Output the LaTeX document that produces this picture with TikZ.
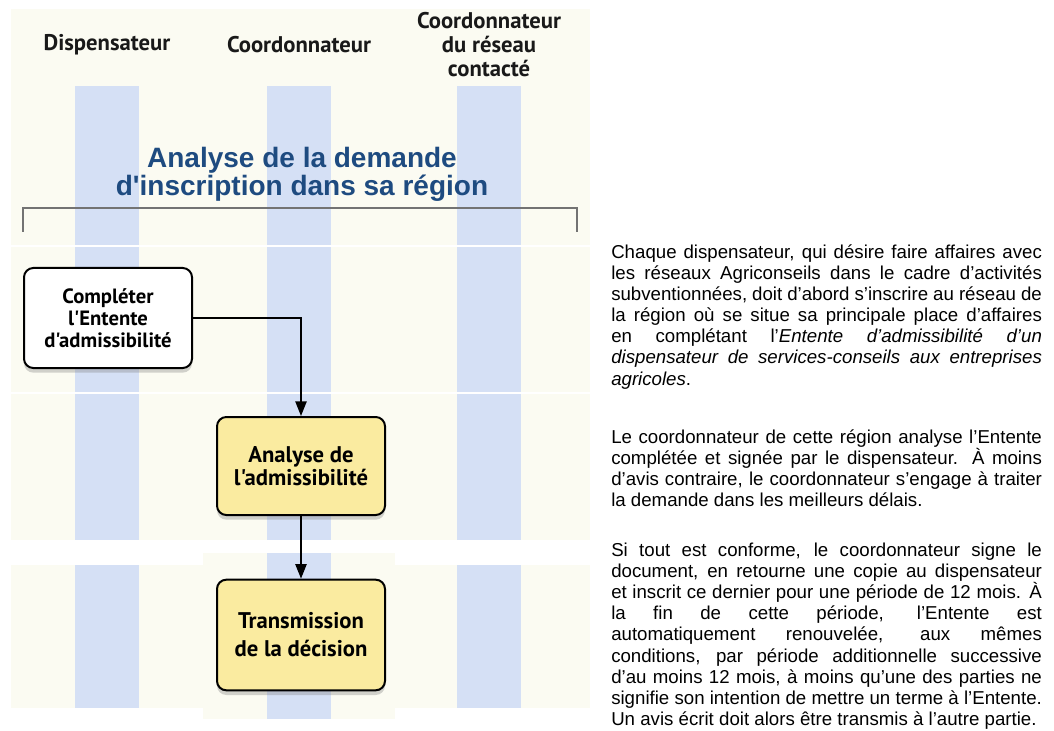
\documentclass[tikz,border=0pt]{standalone}
\usepackage{fontspec}
\setmainfont{Liberation Sans}
\newfontfamily\lanefont{PT Sans}
\newfontfamily\titlefont{Liberation Sans}
\usetikzlibrary{arrows.meta,shadows}
\definecolor{panelcream}{HTML}{FBFBF2}
\definecolor{laneblue}{HTML}{D5E0F5}
\definecolor{titleblue}{HTML}{1E4B80}
\definecolor{stepyellow}{HTML}{FAEBA0}
\begin{document}
\begin{tikzpicture}[x=0.75pt,y=-0.75pt]
\tikzstyle{panel} = [fill=panelcream];
\tikzstyle{lane} = [fill=laneblue];
\tikzstyle{header} = [align=center, text=black!90, font=\lanefont\bfseries\fontsize{17}{18}\selectfont];
\tikzstyle{titre} = [align=center, text=titleblue, font=\titlefont\bfseries\fontsize{21}{21}\selectfont];
\tikzstyle{stepbox} = [draw, line width=1.5pt, rounded corners=7pt, minimum width=126pt, align=center, drop shadow={shadow xshift=0pt, shadow yshift=-3.5pt, opacity=0.35}];
\tikzstyle{flow} = [line width=1.1pt, -{Triangle[length=11pt, width=8.5pt]}];
\tikzstyle{para} = [anchor=base west, text width=323pt, inner sep=0pt, align=justify, font=\fontsize{14}{15.9}\selectfont];
\useasboundingbox (0,0) rectangle (1054,731);
\fill[white] (0,0) rectangle (1054,731);
\fill[panel] (11,9) rectangle (590,245);
\fill[panel] (11,247) rectangle (590,392);
\fill[panel] (11,394) rectangle (590,540);
\fill[panel] (203,553) rectangle (395,719);
\fill[panel] (11,565) rectangle (590,708);
\foreach \ya/\yb in {86/245, 247/392, 394/540, 565/708}
  \foreach \xa in {75, 267, 457}
    \fill[lane] (\xa,\ya) rectangle (\xa+64,\yb);
\fill[lane] (267,553) rectangle (331,719);
\node[header] (disp) at (107,45) {Dispensateur};
\node[header] (coord) at (299,45) {Coordonnateur};
\node[header] (reseau) at (489,45) {Coordonnateur\\du réseau\\contacté};
\node[titre] (demande) at (302,174) {Analyse de la demande\\d'inscription dans sa région};
\draw[black!55, line width=1.2pt] (23,232) -- (23,208) -- (577,208) -- (577,232);
\node[stepbox, fill=white, minimum height=75pt, font=\lanefont\bfseries\fontsize{15.5}{16.5}\selectfont] (entente) at (108,318) {Compléter\\l'Entente\\d'admissibilité};
\node[stepbox, fill=stepyellow, minimum height=73.5pt, font=\lanefont\bfseries\fontsize{17}{17.25}\selectfont] (analyse) at (301,466) {Analyse de\\l'admissibilité};
\node[stepbox, fill=stepyellow, minimum height=83pt, font=\lanefont\bfseries\fontsize{17}{21}\selectfont] (decision) at (301,635) {Transmission\\de la décision};
\draw[flow] (entente.east) -| (analyse.north);
\draw[flow] (analyse) -- (decision);
\node[para] (p1) at (611,258) {\hyphenpenalty=10000 \exhyphenpenalty=10000 \relax
Chaque dispensateur, qui désire faire affaires avec\linebreak
les réseaux Agriconseils dans le cadre d’activités\linebreak
subventionnées, doit d’abord s’inscrire au réseau de\linebreak
la région où se situe sa principale place d’affaires\linebreak
en complétant l’\textit{Entente d’admissibilité d’un}\linebreak
\textit{dispensateur de services-conseils aux entreprises}\linebreak
\textit{agricoles}.};
\node[para] (p2) at (611,443) {\hyphenpenalty=10000 \relax
Le coordonnateur de cette région analyse l’Entente\linebreak
complétée et signée par le dispensateur. À moins\linebreak
d’avis contraire, le coordonnateur s’engage à traiter\linebreak
la demande dans les meilleurs délais.};
\node[para] (p3) at (611,556) {\hyphenpenalty=10000 \relax
Si tout est conforme, le coordonnateur signe le\linebreak
document, en retourne une copie au dispensateur\linebreak
et inscrit ce dernier pour une période de 12 mois. À\linebreak
la fin de cette période, l’Entente est\linebreak
automatiquement renouvelée, aux mêmes\linebreak
conditions, par période additionnelle successive\linebreak
d’au moins 12 mois, à moins qu’une des parties ne\linebreak
signifie son intention de mettre un terme à l’Entente.\linebreak
Un avis écrit doit alors être transmis à l’autre partie.};
\end{tikzpicture}
\end{document}
